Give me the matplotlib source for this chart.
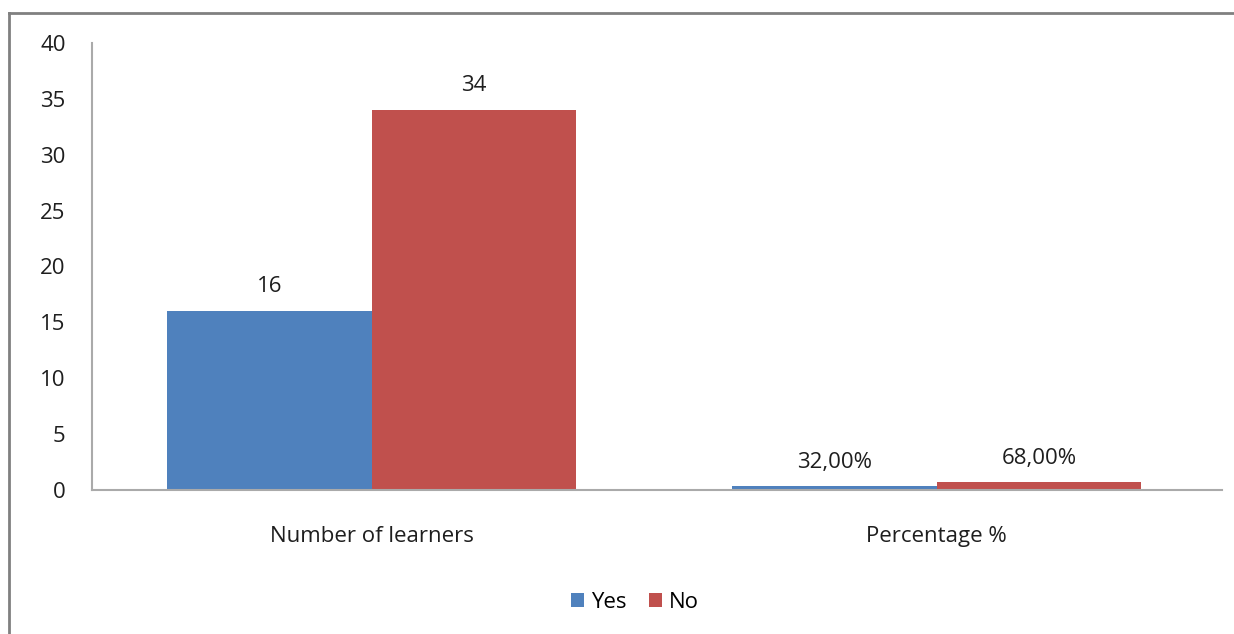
import matplotlib.pyplot as plt
import numpy as np
from matplotlib.lines import Line2D

categories = ["Number of learners", "Percentage %"]
yes_values = [16, 0.32]
no_values = [34, 0.68]
yes_labels = ["16", "32,00%"]
no_labels = ["34", "68,00%"]
y_ticks = [0, 5, 10, 15, 20, 25, 30, 35, 40]

plt.rcParams['font.family'] = ['Open Sans', 'DejaVu Sans']

fig = plt.figure(figsize=(12.34, 6.34), dpi=100)
ax = fig.add_axes([92/1234, 1 - 490/634, (1222-92)/1234, (490-43)/634])

x = np.arange(len(categories))
w = 0.362
bYes = ax.bar(x - w/2, yes_values, w, color="#4F81BD", label="Yes")
bNo = ax.bar(x + w/2, no_values, w, color="#C0504D", label="No")

# value labels above bars
for bars, labels in ((bYes, yes_labels), (bNo, no_labels)):
	for b, lab in zip(bars, labels):
		ax.annotate(lab, (b.get_x() + b.get_width()/2, b.get_height()),
			xytext=(0, 10), textcoords="offset points", ha="center", va="bottom",
			fontsize=16, color="#1e1e1e")

ax.set_xlim(-0.495, 1.505)
ax.set_ylim(0, 40)
ax.set_yticks(y_ticks)
ax.set_xticks(x)
ax.set_xticklabels(categories)
ax.tick_params(axis="both", length=0, labelsize=16, labelcolor="#1e1e1e")
ax.tick_params(axis="y", pad=19)
ax.tick_params(axis="x", pad=26)

for s in ("top", "right"):
	ax.spines[s].set_visible(False)
for s in ("left", "bottom"):
	ax.spines[s].set_color("#AAAAAA")
	ax.spines[s].set_linewidth(1.5)

ax.legend(loc="center", bbox_to_anchor=(635/1234, 1 - 602/634), bbox_transform=fig.transFigure,
	ncol=2, frameon=False, fontsize=16, handlelength=0.6, handleheight=0.6,
	handletextpad=0.3, columnspacing=1.0)

# outer border (top and left visible)
fig.add_artist(Line2D([9/1234, 9/1234], [0, 1 - 13/634], transform=fig.transFigure, color="#808080", lw=2))
fig.add_artist(Line2D([9/1234, 1], [1 - 13/634, 1 - 13/634], transform=fig.transFigure, color="#808080", lw=2))

fig.savefig("out.png", dpi=100)
